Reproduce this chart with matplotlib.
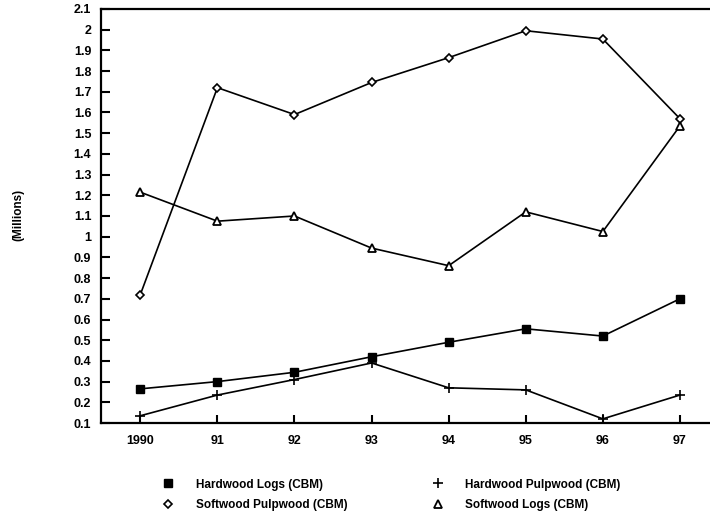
import matplotlib.pyplot as plt
import numpy as np

plt.rcParams['font.family'] = ['Liberation Sans', 'DejaVu Sans']
plt.rcParams['font.weight'] = 'bold'

years = [1990, 1991, 1992, 1993, 1994, 1995, 1996, 1997]
year_labels = ['1990', '91', '92', '93', '94', '95', '96', '97']

hardwood_logs = [0.265, 0.30, 0.345, 0.42, 0.49, 0.555, 0.52, 0.70]
hardwood_pulp = [0.135, 0.235, 0.31, 0.39, 0.27, 0.26, 0.12, 0.235]
softwood_pulp = [0.72, 1.72, 1.59, 1.745, 1.865, 1.995, 1.955, 1.57]
softwood_logs = [1.215, 1.075, 1.10, 0.945, 0.86, 1.12, 1.025, 1.535]

fig = plt.figure(figsize=(7.1, 5.19), dpi=100)
ax = fig.add_axes([101/710, 1 - 423/519, 609/710, 414/519])

ax.plot(years, hardwood_logs, color='black', lw=1.2, marker='s', ms=6,
        mfc='black', label='Hardwood Logs (CBM)')
ax.plot(years, hardwood_pulp, color='black', lw=1.2, marker='+', ms=7,
        mew=1.2, label='Hardwood Pulpwood (CBM)')
ax.plot(years, softwood_pulp, color='black', lw=1.2, marker='D', ms=3.8,
        mfc='white', mew=1.2, label='Softwood Pulpwood (CBM)')
ax.plot(years, softwood_logs, color='black', lw=1.2, marker='^', ms=5.5,
        mfc='white', mew=1.3, label='Softwood Logs (CBM)')

ax.set_xlim(1989.49, 1997.39)
ax.set_ylim(0.1, 2.1)
ax.set_xticks(years)
ax.set_xticklabels(year_labels)
yt = np.round(np.arange(0.1, 2.11, 0.1), 1)
ax.set_yticks(yt)
ax.set_yticklabels(['%g' % v for v in yt])
ax.tick_params(direction='in', length=6.5, width=1.5, labelsize=9, pad=7)
ax.tick_params(axis='x', length=5.5, pad=9)
ax.spines['right'].set_visible(False)
for s in ['left', 'top', 'bottom']:
    ax.spines[s].set_linewidth(1.6)

fig.text(18/710, 1 - 215/519, '(Millions)', rotation=90, ha='center',
         va='center', fontsize=8.5)

h, l = ax.get_legend_handles_labels()
handles = []
for hd in h:
    hh = plt.Line2D([], [], color='black', lw=0, marker=hd.get_marker(),
                    ms=hd.get_markersize() * 0.95, mfc=hd.get_markerfacecolor(),
                    mew=hd.get_markeredgewidth())
    handles.append(hh)
order = [0, 2, 1, 3]
fig.legend([handles[i] for i in order], [l[i] for i in order],
           ncol=2, frameon=False, loc='center left',
           bbox_to_anchor=(149/710, 1 - 495/519), fontsize=8.5,
           handletextpad=1.55, columnspacing=6.95, labelspacing=0.75,
           handlelength=1.5)

fig.savefig('out.png', dpi=100)
